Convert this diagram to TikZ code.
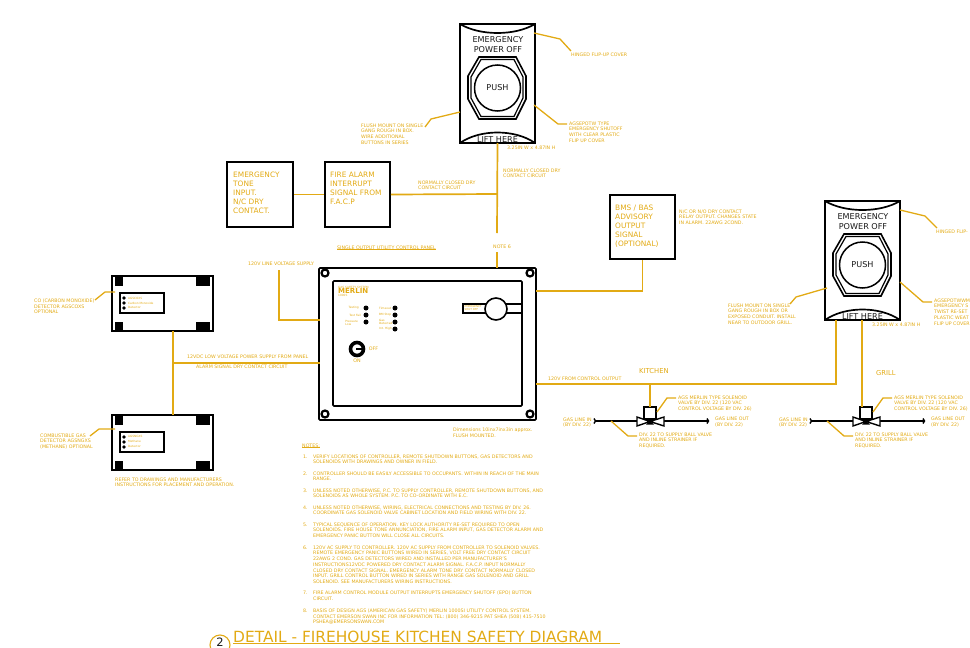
\documentclass[tikz,border=0pt]{standalone}
\usepackage{fontspec}
\setmainfont{DejaVu Sans}
\usetikzlibrary{positioning}
\definecolor{gold}{RGB}{226,170,20}
\definecolor{ink}{RGB}{25,25,25}

\tikzset{
  wire/.style={draw=gold,line width=1.7pt},
  leader/.style={draw=gold,line width=1.3pt},
  heavy/.style={draw=black,line width=1.7pt},
  tiny/.style={text=gold,inner sep=0pt,anchor=north west,align=left,font=\fontsize{4.75}{5.7}\selectfont},
  micro/.style={text=gold,inner sep=0pt,anchor=west,align=left,font=\fontsize{2.9}{3.2}\selectfont},
  boxtext/.style={text=gold,inner sep=0pt,anchor=north west,align=left,font=\fontsize{7.4}{9.1}\selectfont},
  epotext/.style={text=ink,inner sep=0pt,font=\fontsize{8.1}{10}\selectfont},
  led/.style={circle,fill=black,inner sep=0pt,minimum size=5pt},
  epo/.pic={
    \draw[heavy] (0,0) rectangle (75,119);
    \draw[heavy] (0,0) .. controls (20,12) and (55,12) .. (75,0);
    \draw[heavy] (0,119) .. controls (20,105) and (55,105) .. (75,119);
    \draw[line width=1.6pt] (19,33) -- (56,33) -- (66,52) -- (66,75) -- (56,95) -- (19,95) -- (8,75) -- (8,52) -- cycle;
    \draw[line width=1.2pt] (21,35.5) -- (54,35.5) -- (63,53) -- (63,74) -- (54,92.5) -- (21,92.5) -- (11,74) -- (11,53) -- cycle;
    \draw[line width=1.5pt,fill=white] (37.5,64) circle (23);
    \node[epotext] (-push) at (37.5,64) {PUSH};
    \node[epotext] (-emg) at (38,16) {EMERGENCY};
    \node[epotext] (-off) at (38,26) {POWER OFF};
    \node[epotext] (-lift) at (37.5,116) {LIFT HERE};
  },
  detector/.pic={
    \draw[heavy] (0,0) rectangle (101,55);
    \fill (3,0) rectangle (11,10);
    \fill (84,0) rectangle (98,10);
    \fill (3,46) rectangle (11,55);
    \fill (84,46) rectangle (98,55);
    \draw[line width=1.3pt] (8,17) rectangle (52,37);
    \foreach \y in {22,27,32}{
      \node[circle,fill=black,inner sep=0pt,minimum size=3.8pt] at (12,\y) {};
    }
  },
  valve/.pic={
    \draw[line width=1.4pt] (-55,14) -- (58,14);
    \draw[line width=1.4pt] (-56,11.5) -- (-54.5,14) -- (-56,16.5);
    \draw[line width=1.4pt] (57,11.5) -- (58.5,14) -- (57,16.5);
    \draw[line width=1.4pt,fill=white] (-6,0) rectangle (6,12);
    \draw[line width=1.4pt,fill=white] (-13,10) -- (0,14.5) -- (-13,19) -- cycle;
    \draw[line width=1.4pt,fill=white] (14,10) -- (0,14.5) -- (14,19) -- cycle;
    \fill (-4,17.5) -- (0,14) -- (4,17.5) -- cycle;
    \draw[leader] (7,5) -- (17,-9) -- (26,-9);
    \draw[leader] (-39,14) -- (-22,29) -- (-13,29);
    \node[tiny] (-in) at (-87,10.5) {GAS LINE IN\\(BY DIV. 22)};
    \node[tiny] (-out) at (65,10) {GAS LINE OUT\\(BY DIV. 22)};
    \node[tiny] (-ags) at (28,-11.5) {AGS MERLIN TYPE SOLENOID\\VALVE BY DIV. 22 (120 VAC\\CONTROL VOLTAGE BY DIV. 26)};
    \node[tiny] (-div) at (-11,25.5) {DIV. 22 TO SUPPLY BALL VALVE\\AND INLINE STRAINER IF\\REQUIRED.};
  }
}

\begin{document}
\begin{tikzpicture}[x=1pt,y=-1pt]
  \useasboundingbox (0,0) rectangle (970,648);

  % push buttons
  \pic (epoa) at (460,24) {epo};
  \pic (epob) at (825,201) {epo};

  % boxes
  \node[heavy,draw,minimum width=66pt,minimum height=65pt,inner sep=0pt] (tone) at (260,194.5) {};
  \node[heavy,draw,minimum width=65pt,minimum height=65pt,inner sep=0pt] (alarm) at (357.5,194.5) {};
  \node[heavy,draw,minimum width=65pt,minimum height=64pt,inner sep=0pt] (bms) at (642.5,227) {};
  \node[boxtext] (tonetext) at (233,171.5) {EMERGENCY\\TONE\\INPUT.\\N/C DRY\\CONTACT.};
  \node[boxtext] (alarmtext) at (330,171.5) {FIRE ALARM\\INTERRUPT\\SIGNAL FROM\\F.A.C.P};
  \node[boxtext] (bmstext) at (615,204.5) {BMS / BAS\\ADVISORY\\OUTPUT\\SIGNAL\\(OPTIONAL)};

  % control panel
  \node[draw,line width=1.7pt,rounded corners=1pt,minimum width=217pt,minimum height=152pt,inner sep=0pt] (panel) at (427.5,344) {};
  \node[draw,line width=1.7pt,rounded corners=1pt,minimum width=189pt,minimum height=125pt,inner sep=0pt] (face) at (427.5,343.5) {};
  \foreach \n/\x/\y in {sa/325/273,sb/530/273,sc/325/414,sd/530/414}{
    \node[circle,draw,fill=white,line width=2.2pt,inner sep=0pt,minimum size=7pt] (\n) at (\x,\y) {};
  }
  \node[inner sep=0pt,anchor=west,text=gold,font=\fontsize{2.9}{3}\selectfont] (gas) at (338,287) {GAS SAFETY SYSTEM};
  \node[inner sep=0pt,anchor=west,text=gold,font=\bfseries\fontsize{7}{8}\selectfont] (merlin) at (338,291) {MERLIN};
  \node[inner sep=0pt,anchor=west,text=gold,font=\fontsize{2.9}{3}\selectfont] (model) at (338,295) {1000S};
  \foreach \n/\x/\y in {la/366/308,lb/366/315,lc/366/322,ld/395/308,le/395/315,lf/395/322,lg/395/329}{
    \node[led] (\n) at (\x,\y) {};
  }
  \node[micro,anchor=east] (latext) at (359,308) {Testing};
  \node[micro,anchor=east] (lbtext) at (361,315) {Test Fail};
  \node[micro,anchor=east,align=left] (lctext) at (358,323) {Pressure\\Low};
  \node[micro,anchor=west] (ldtext) at (379,308) {Timeout};
  \node[micro,anchor=west] (letext) at (379,315) {BM Stop};
  \node[micro,anchor=west] (lftext) at (379,322) {Gas\\Detected};
  \node[micro,anchor=west] (lgtext) at (379,329) {Int. High};
  % shutoff handle
  \draw[line width=1.5pt] (463,304) rectangle (522,313);
  \node[micro,font=\fontsize{2.7}{3}\selectfont] (shut) at (464.5,308.5) {EMERGENCY\\SHUT OFF};
  \node[circle,draw,fill=white,line width=1.6pt,inner sep=0pt,minimum size=22pt] (knob) at (496,309) {};
  % key
  \node[circle,draw,line width=3.6pt,fill=white,inner sep=0pt,minimum size=13pt] (key) at (357,349) {};
  \fill (356,348.4) rectangle (362,350.4);
  \node[inner sep=0pt,text=gold,font=\fontsize{4.8}{5}\selectfont] (keyoff) at (373.5,349) {OFF};
  \node[inner sep=0pt,text=gold,font=\fontsize{4.8}{5}\selectfont] (keyon) at (357,361) {ON};

  % detectors
  \pic (co) at (112,276) {detector};
  \pic (ch) at (112,415) {detector};
  \node[micro] (cotexta) at (128,298) {AGSCOXS};
  \node[micro] (cotextb) at (128,303) {Carbon Monoxide};
  \node[micro] (cotextc) at (128,307) {Detector};
  \node[micro] (chtexta) at (128,436.5) {AGSNGXS};
  \node[micro] (chtextb) at (128,441.5) {Methane};
  \node[micro] (chtextc) at (128,446) {Detector};

  % valves
  \pic (va) at (650,407) {valve};
  \pic (vb) at (866,407) {valve};

  % free ends of the wires
  \coordinate (supply) at (279,270);
  \coordinate (inA) at (319.5,320);
  \coordinate (inB) at (319.5,363);
  \coordinate (tee) at (173,363);
  \coordinate (noteup) at (497,233);
  \coordinate (notedn) at (497,252);
  \coordinate (ptop) at (497,268);
  \coordinate (jct) at (497,194);
  \coordinate (outa) at (536,291);
  \coordinate (outb) at (536,384);
  \coordinate (kit) at (650,384);
  \coordinate (grl) at (836,384);

  % wires
  \draw[wire] (tone.east) -- (alarm.west);
  \draw[wire] (alarm.east) -- (jct);
  \draw[wire] (497.5,143) -- (noteup);
  \draw[wire] (notedn) -- (ptop);
  \draw[wire] (supply) |- (inA);
  \draw[wire] (tee) -- (inB);
  \draw[wire] (173,331) -- (173,415);
  \draw[wire] (outa) -| (bms.south);
  \draw[wire] (outb) -- (grl) -- (836,320);
  \draw[wire] (kit) -- (650,407);
  \draw[wire] (862,320) -- (862,407);

  % leaders
  \draw[leader] (534,33) -- (560,39) -- (571,51);
  \draw[leader] (534,105) -- (558,124) -- (567,124);
  \draw[leader] (460,112) -- (431,119) -- (425,127);
  \draw[leader] (900,210) -- (925,216) -- (937,228);
  \draw[leader] (900,282) -- (923,302) -- (932,302);
  \draw[leader] (827,288) -- (796,297) -- (790,304);
  \draw[leader] (115,292) -- (105,292) -- (95,300);
  \draw[leader] (115,429) -- (99,429) -- (90,436);

  % labels
  \node[tiny] (hinga) at (571,52.5) {HINGED FLIP-UP COVER};
  \node[tiny] (hingb) at (936,229.5) {HINGED FLIP-};
  \node[tiny] (epoatext) at (569,121.5) {AGSEPOTW TYPE\\EMERGENCY SHUTOFF\\WITH CLEAR PLASTIC\\FLIP UP COVER};
  \node[tiny] (epobtext) at (934,298.5) {AGSEPOTWWM\\EMERGENCY S\\TWIST RE-SET\\PLASTIC WEAT\\FLIP UP COVER};
  \node[tiny] (flusha) at (361,123.5) {FLUSH MOUNT ON SINGLE\\GANG ROUGH IN BOX.\\WIRE ADDITIONAL\\BUTTONS IN SERIES};
  \node[tiny] (flushb) at (728,303.5) {FLUSH MOUNT ON SINGLE\\GANG ROUGH IN BOX OR\\EXPOSED CONDUIT. INSTALL\\NEAR TO OUTDOOR GRILL.};
  \node[tiny] (dima) at (507,145.5) {3.25IN W x 4.87IN H};
  \node[tiny] (dimb) at (872,322.5) {3.25IN W x 4.87IN H};
  \node[tiny] (nccontact) at (503,168.5) {NORMALLY CLOSED DRY\\CONTACT CIRCUIT};
  \node[tiny] (ncwire) at (418,180.5) {NORMALLY CLOSED DRY\\CONTACT CIRCUIT};
  \node[tiny] (relay) at (679,209.5) {N/C OR N/O DRY CONTACT\\RELAY OUTPUT. CHANGES STATE\\IN ALARM. 22AWG 2COND.};
  \node[tiny] (noteref) at (493,244.5) {NOTE  6};
  \node[tiny] (single) at (337,245.5) {SINGLE OUTPUT UTILITY CONTROL PANEL};
  \draw[leader] (single.south west) -- (single.south east);
  \node[tiny] (linev) at (248,261.5) {120V LINE VOLTAGE SUPPLY};
  \node[tiny] (lowv) at (187,354.5) {12VDC LOW VOLTAGE POWER SUPPLY FROM PANEL};
  \node[tiny] (alarmsig) at (196,364.5) {ALARM SIGNAL DRY CONTACT CIRCUIT};
  \node[tiny] (cotext) at (34,298.5) {CO (CARBON MONOXIDE)\\DETECTOR AGSCOXS\\OPTIONAL};
  \node[tiny] (chtext) at (40,433.5) {COMBUSTIBLE GAS\\DETECTOR AGSNGXS\\(METHANE) OPTIONAL};
  \node[tiny] (refer) at (115,477.5) {REFER TO DRAWINGS AND MANUFACTURERS\\INSTRUCTIONS FOR PLACEMENT AND OPERATION.};
  \node[tiny] (ctrlout) at (548,376.5) {120V FROM CONTROL OUTPUT};
  \node[tiny] (dimpanel) at (453,427.5) {Dimensions 10inx7inx3in approx.\\FLUSH MOUNTED.};
  \node[inner sep=0pt,anchor=west,text=gold,font=\fontsize{6.8}{7}\selectfont] (kitchen) at (639,371) {KITCHEN};
  \node[inner sep=0pt,anchor=west,text=gold,font=\fontsize{6.8}{7}\selectfont] (grill) at (876,373) {GRILL};

  % notes
  \node[tiny] (notes) at (302,443.5) {NOTES:};
  \draw[leader] (notes.south west) -- (notes.south east);
  \foreach \n/\y in {1/454.5,2/471.5,3/488.5,4/505.5,5/522.5,6/545.5,7/590.5,8/608.5}{
    \node[tiny] (num\n) at (303,\y) {\n.};
  }
  \node[tiny] (noteA) at (313,454.5) {VERIFY LOCATIONS OF CONTROLLER,  REMOTE SHUTDOWN BUTTONS, GAS DETECTORS AND\\SOLENOIDS WITH DRAWINGS AND OWNER IN FIELD.};
  \node[tiny] (noteB) at (313,471.5) {CONTROLLER SHOULD BE EASILY ACCESSIBLE TO OCCUPANTS. WITHIN IN REACH OF THE MAIN\\RANGE.};
  \node[tiny] (noteC) at (313,488.5) {UNLESS NOTED OTHERWISE, P.C. TO SUPPLY CONTROLLER, REMOTE SHUTDOWN BUTTONS, AND\\SOLENOIDS AS WHOLE SYSTEM. P.C. TO CO-ORDINATE WITH E.C.};
  \node[tiny] (noteD) at (313,505.5) {UNLESS NOTED OTHERWISE, WIRING, ELECTRICAL CONNECTIONS AND TESTING BY DIV. 26.\\COORDINATE GAS SOLENOID VALVE CABINET LOCATION AND FIELD WIRING WITH DIV. 22.};
  \node[tiny] (noteE) at (313,522.5) {TYPICAL SEQUENCE OF OPERATION. KEY LOCK AUTHORITY RE-SET REQUIRED TO OPEN\\SOLENOIDS. FIRE HOUSE TONE ANNUNCIATION, FIRE ALARM INPUT, GAS DETECTOR ALARM AND\\EMERGENCY PANIC BUTTON WILL CLOSE ALL CIRCUITS.};
  \node[tiny] (noteF) at (313,545.5) {120V AC SUPPLY TO CONTROLLER. 120V AC SUPPLY FROM CONTROLLER TO SOLENOID VALVES.\\REMOTE EMERGENCY PANIC BUTTONS WIRED IN SERIES, VOLT FREE DRY CONTACT CIRCUIT\\22AWG 2 COND. GAS DETECTORS WIRED AND INSTALLED PER MANUFACTURER'S\\INSTRUCTIONS12VDC POWERED DRY CONTACT ALARM SIGNAL. F.A.C.P. INPUT NORMALLY\\CLOSED DRY CONTACT SIGNAL. EMERGENCY ALARM TONE DRY CONTACT NORMALLY CLOSED\\INPUT. GRILL CONTROL BUTTON WIRED IN SERIES WITH RANGE GAS SOLENOID AND GRILL\\SOLENOID. SEE MANUFACTURERS WIRING INSTRUCTIONS.};
  \node[tiny] (noteG) at (313,590.5) {FIRE ALARM CONTROL MODULE OUTPUT INTERRUPTS EMERGENCY SHUTOFF (EPO) BUTTON\\CIRCUIT.};
  \node[tiny] (noteH) at (313,608.5) {BASIS OF DESIGN AGS (AMERICAN GAS SAFETY) MERLIN 1000SI UTILITY CONTROL SYSTEM.\\CONTACT EMERSON SWAN INC FOR INFORMATION TEL: (800) 346-9215 PAT SHEA (508) 415-7510\\PSHEA@EMERSONSWAN.COM};

  % title
  \node[inner sep=0pt,anchor=west,text=gold,font=\fontsize{15.4}{17}\selectfont] (title) at (233,636.5) {DETAIL - FIREHOUSE KITCHEN SAFETY DIAGRAM};
  \draw[draw=gold,line width=1.7pt] (233,643.5) -- (620,643.5);
  \node[circle,draw=gold,line width=1.1pt,inner sep=0pt,minimum size=20pt] (tag) at (220,645) {};
  \node[inner sep=0pt,text=ink,font=\fontsize{11.5}{12}\selectfont] (tagnum) at (220,642.5) {2};
\end{tikzpicture}
\end{document}
